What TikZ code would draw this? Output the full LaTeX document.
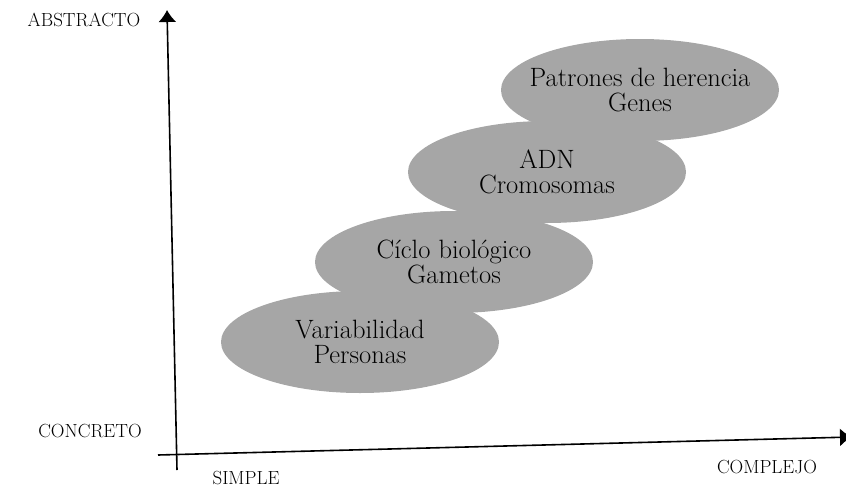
\documentclass[tikz,border=0pt]{standalone}
\usetikzlibrary{shapes, arrows.meta}
\tikzstyle{level} = [ellipse, fill=black!35, minimum width=278pt,
    minimum height=102pt, inner sep=0pt]
\tikzstyle{inside} = [align=center, font=\fontsize{26.5}{25}\selectfont]
\tikzstyle{axislabel} = [font=\fontsize{19}{19}\selectfont]
\tikzstyle{axis} = [line width=1.6pt, -{Latex[length=12pt,width=18pt]}]

\begin{document}
\begin{tikzpicture}[x=1pt, y=-1pt]
\useasboundingbox (0,0) rectangle (846,490);
% ellipses, from concrete to abstract
\node [level, label={[inside]center:Variabilidad\\Personas}] (var) at (360,342) {};
\node [level, label={[inside]center:C\'{\i}clo biol\'ogico\\Gametos}] (cic) at (454,262) {};
\node [level, label={[inside]center:ADN\\Cromosomas}] (adn) at (547,172) {};
\node [level, label={[inside]center:Patrones de herencia\\Genes}] (pat) at (640,90) {};

% axes
\coordinate (vbot) at (177,470);
\coordinate (vtop) at (167,10);
\coordinate (hleft) at (158,455);
\coordinate (hright) at (852,437);
\draw [axis] (vbot) -- (vtop);
\draw [axis] (hleft) -- (hright);

\node [axislabel] (abs) at (84,20) {ABSTRACTO};
\node [axislabel] (con) at (90,431) {CONCRETO};
\node [axislabel] (sim) at (246,478) {SIMPLE};
\node [axislabel] (com) at (767,467) {COMPLEJO};
\end{tikzpicture}
\end{document}
